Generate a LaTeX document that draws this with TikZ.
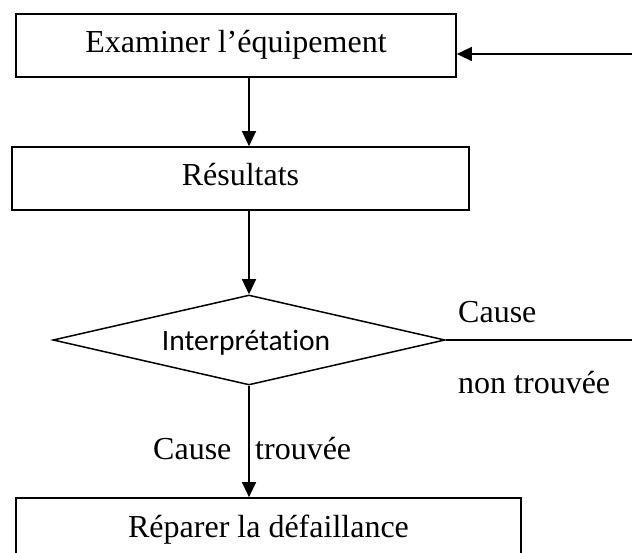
\documentclass[tikz,border=0pt]{standalone}
\usepackage{fontspec}
\setmainfont{Liberation Serif}
\newfontfamily\calfont[RawFeature={-liga}]{Carlito}
\usetikzlibrary{shapes.geometric,arrows.meta}
\begin{document}
\begin{tikzpicture}[x=1pt,y=-1pt,
  box/.style={draw, line width=1.7pt, minimum width=#1, minimum height=63pt,
    inner sep=0pt, text height=22pt, text depth=7pt,
    font=\fontsize{32}{36}\selectfont},
  dia/.style={diamond, draw, line width=1.5pt, shape aspect=4.36,
    minimum width=392pt, minimum height=90pt, inner sep=0pt,
    text height=22pt, text depth=0pt,
    font=\calfont\fontsize{29.5}{32}\selectfont},
  conn/.style={line width=1.3pt, -{Triangle[length=15pt,width=14pt]}},
  plain/.style={line width=1.3pt},
  lab/.style={font=\fontsize{32}{36}\selectfont, inner sep=0pt, anchor=base west}]
\path[use as bounding box, fill=white] (0,0) rectangle (632,553);
\clip (0,0) rectangle (632,553);
\node[box=440pt] (exam) at (236,45.5) {Examiner l’équipement};
\node[box=457pt] (res) at (240.5,178.5) {Résultats};
\node[dia] (interp) at (249,340) {\hspace*{-6pt}Interprétation};
\node[box=505pt] (rep) at (268.5,529.5) {Réparer la défaillance};
\coordinate (r1) at (632,340);
\coordinate (r2) at (632,54);
\draw[conn] (interp.north |- exam.south) -- (interp.north |- res.north);
\draw[conn] (res.south -| interp.north) -- (interp.north);
\draw[conn] (interp.south) -- (interp.south |- rep.north);
\draw[plain] (interp.east) -- (r1);
\draw[conn] (r2) -- (r2 -| exam.east);
\node[lab] (c1) at (458,323) {Cause};
\node[lab] (nt) at (458,393) {non trouvée};
\node[lab] (c2) at (153,459) {Cause};
\node[lab] (tr) at (255,459) {trouvée};
\end{tikzpicture}
\end{document}
